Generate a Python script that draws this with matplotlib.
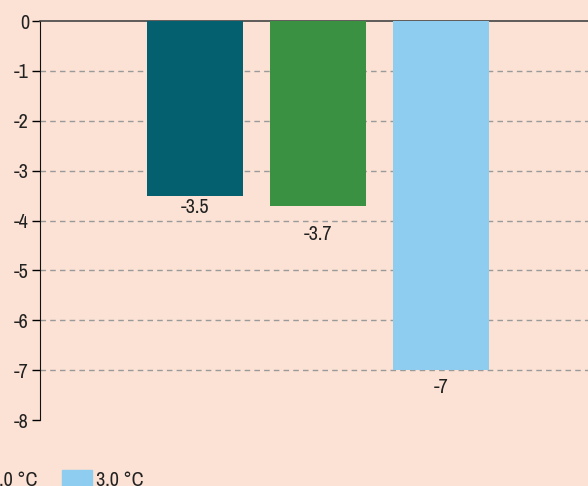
import matplotlib.pyplot as plt
from matplotlib.patches import Patch

plt.rcParams['font.family'] = ['Archivo Narrow', 'DejaVu Sans']

series = ['1.5 °C', '2.0 °C', '3.0 °C']
values = [-3.5, -3.7, -7]
colors = ['#045f6e', '#3a9142', '#8ecdef']
yticks = [0, -1, -2, -3, -4, -5, -6, -7, -8]
# how far (px) each value label sits below its bar end, as in the original
label_drop = [12, 29, 17]

bg = '#fce2d4'
W, H = 588, 486
fs = 14.5
fig = plt.figure(figsize=(W / 100, H / 100), dpi=100, facecolor=bg)
# axes runs a bit past the right edge (chart is cropped)
ax = fig.add_axes([40 / W, 1 - 420 / H, 556 / W, 399 / H], facecolor=bg)

pos = [0, 1, 2]
ax.bar(pos, values, width=0.78, color=colors, zorder=3)
for x, v, d in zip(pos, values, label_drop):
    ax.annotate(f'{v:g}', (x, v), xytext=(0, -d), textcoords='offset pixels',
                ha='center', va='center', fontsize=fs, color='#222222')

ax.set_xlim(-1.26, 3.26)
ax.set_ylim(-8, 0)
ax.set_yticks(yticks)
ax.set_yticklabels([f'{t:g}' for t in yticks], fontsize=fs, color='#222222')
ax.set_xticks([])
for t in yticks[1:-1]:
    ax.axhline(t, linestyle=(0, (4, 3)), color='#9a9a9a', linewidth=1, zorder=0)
ax.tick_params(axis='y', length=6, width=1, pad=2)
for s in ['right', 'bottom']:
    ax.spines[s].set_visible(False)
ax.spines['top'].set_color('#444444')
ax.spines['top'].set_linewidth(1.2)
ax.spines['left'].set_color('#111111')

handles = [Patch(color=c, label=s) for c, s in zip(colors, series)]
leg_kw = dict(handles=handles, ncol=3, loc='center left', frameon=False, fontsize=fs,
              handlelength=1.5, handleheight=0.9, handletextpad=0.2, columnspacing=1.2,
              borderpad=0, borderaxespad=0, labelcolor='#222222')
leg = fig.legend(bbox_to_anchor=(0, 1 - 480 / H), **leg_kw)

# shift legend so the last patch starts at x=62px, like the cropped original
fig.canvas.draw()
x0 = leg.legend_handles[2].get_window_extent().x0
leg.remove()
fig.legend(bbox_to_anchor=((62 - x0) / W, 1 - 480 / H), **leg_kw)

fig.savefig('out.png', dpi=100, facecolor=bg)
